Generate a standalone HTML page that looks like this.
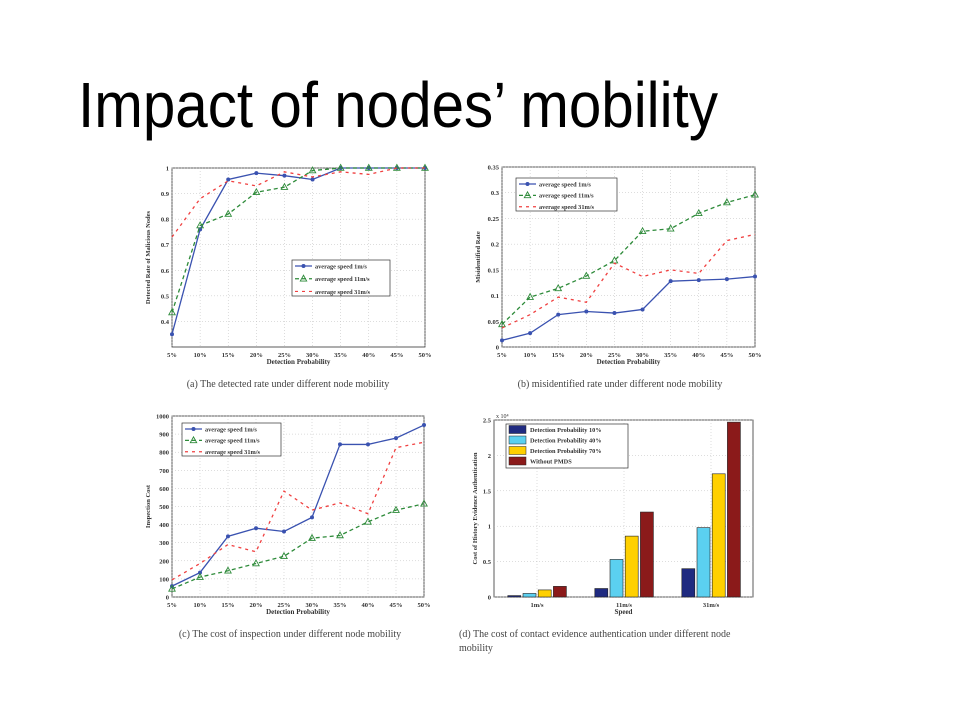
<!DOCTYPE html>
<html><head><meta charset="utf-8"><style>
html,body{margin:0;padding:0;background:#fff;}
svg text{font-family:"Liberation Serif",serif;}
</style></head><body>
<svg id="s" width="960" height="720" viewBox="0 0 960 720" xmlns="http://www.w3.org/2000/svg">
<text x="78" y="127" font-size="64" textLength="640" lengthAdjust="spacingAndGlyphs" style="font-family:'Liberation Sans',sans-serif">Impact of nodes’ mobility</text>
</svg>
<script>
const xCats=['5%','10%','15%','20%','25%','30%','35%','40%','45%','50%'];
const seriesNames=['average speed 1m/s','average speed 11m/s','average speed 31m/s'];
const aBlue=[0.35,0.76,0.955,0.98,0.97,0.955,1,1,1,1];
const aGreen=[0.435,0.775,0.82,0.905,0.925,0.99,1,1,1,1];
const aRed=[0.73,0.88,0.95,0.93,0.985,0.965,0.985,0.975,1,1];
const aTicks=[0.4,0.5,0.6,0.7,0.8,0.9,1];
const bBlue=[0.013,0.027,0.063,0.069,0.066,0.073,0.128,0.130,0.132,0.137];
const bGreen=[0.044,0.097,0.114,0.138,0.168,0.225,0.230,0.260,0.281,0.296];
const bRed=[0.037,0.063,0.097,0.087,0.163,0.137,0.150,0.143,0.207,0.219];
const bTicks=[0,0.05,0.1,0.15,0.2,0.25,0.3,0.35];
const cBlue=[60,135,335,380,362,440,843,843,878,950];
const cGreen=[45,110,145,185,225,325,340,415,480,515];
const cRed=[95,185,290,250,585,480,520,460,825,855];
const cTicks=[0,100,200,300,400,500,600,700,800,900,1000];
const dCats=['1m/s','11m/s','31m/s'];
const dNames=['Detection Probability 10%','Detection Probability 40%','Detection Probability 70%','Without PMDS'];
const d10=[0.02,0.12,0.40];
const d40=[0.05,0.53,0.98];
const d70=[0.10,0.86,1.74];
const dWithout=[0.15,1.20,2.47];
const dTicks=[0,0.5,1,1.5,2,2.5];

const NS='http://www.w3.org/2000/svg';
const svg=document.getElementById('s');
function mk(tag,attrs,parent,txt){const e=document.createElementNS(NS,tag);for(const k in attrs)e.setAttribute(k,attrs[k]);if(txt!==undefined)e.textContent=txt;(parent||svg).appendChild(e);return e;}
const cols=['#3a52b0','#2e8b3a','#f04040'];
const dashes=['','4,3','3,4'];

function lineChart(id,box,ymin,ymax,ticks,series,ylabel,legend,caption,capX,capY){
  const g=mk('g',{});
  
  
  const [L,T,R,B]=box;
  const sx=i=>L+(R-L)*i/(xCats.length-1);
  const sy=v=>B-(B-T)*(v-ymin)/(ymax-ymin);
  mk('rect',{x:L,y:T,width:R-L,height:B-T,fill:'#fff',stroke:'#333','stroke-width':0.8},g);
  ticks.forEach(t=>{const y=sy(t);
    mk('line',{x1:L,x2:R,y1:y,y2:y,stroke:'#bbb','stroke-width':0.5,'stroke-dasharray':'1,2'},g);
    const tl=mk('text',{x:L-3,y:y+2.5,'font-size':6.5,'font-weight':'bold','text-anchor':'end',fill:'#333'},g,String(t));
    
    
  });
  xCats.forEach((c,i)=>{const x=sx(i);
    mk('line',{x1:x,x2:x,y1:T,y2:B,stroke:'#bbb','stroke-width':0.5,'stroke-dasharray':'1,2'},g);
    const tl=mk('text',{x:x,y:B+10,'font-size':6.5,'font-weight':'bold','text-anchor':'middle',fill:'#333'},g,c);
    
    
  });
  const xt=mk('text',{x:(L+R)/2,y:B+17,'font-size':7,'font-weight':'bold','text-anchor':'middle',fill:'#333'},g,'Detection Probability');
  
  
  const yt=mk('text',{x:0,y:0,'font-size':6.5,'font-weight':'bold','text-anchor':'middle',fill:'#333',transform:`translate(${L-22},${(T+B)/2}) rotate(-90)`},g,ylabel);
  
  
  series.forEach((vals,si)=>{
    const pts=vals.map((v,i)=>sx(i)+','+sy(v)).join(' ');
    const pl=mk('polyline',{points:pts,fill:'none',stroke:cols[si],'stroke-width':1.3,'stroke-dasharray':dashes[si]},g);
    
    
    vals.forEach((v,i)=>{
      let m;
      if(si===0){m=mk('circle',{cx:sx(i),cy:sy(v),r:2,fill:cols[0]},g);}
      else if(si===1){const x=sx(i),y=sy(v);m=mk('polygon',{points:`${x},${y-3.5} ${x-3.2},${y+2.3} ${x+3.2},${y+2.3}`,fill:'none',stroke:cols[1],'stroke-width':0.9},g);}
      if(m){}
    });
  });
  const [lx,ly,lw,lh]=legend;
  const lg=mk('g',{},g);
  
  
  mk('rect',{x:lx,y:ly,width:lw,height:lh,fill:'#fff',stroke:'#333','stroke-width':0.7},lg);
  seriesNames.forEach((n,si)=>{const y=ly+6+si*(lh-8)/2.2;
    mk('line',{x1:lx+3,x2:lx+20,y1:y,y2:y,stroke:cols[si],'stroke-width':1.2,'stroke-dasharray':dashes[si]},lg);
    if(si===0)mk('circle',{cx:lx+11.5,cy:y,r:2,fill:cols[0]},lg);
    if(si===1)mk('polygon',{points:`${lx+11.5},${y-3.5} ${lx+8.3},${y+2.3} ${lx+14.7},${y+2.3}`,fill:'none',stroke:cols[1],'stroke-width':0.9},lg);
    const t=mk('text',{x:lx+23,y:y+2.3,'font-size':6.3,'font-weight':'bold',fill:'#333'},lg,n);
    
    
  });
  const cp=mk('text',{x:capX,y:capY,'font-size':10,'text-anchor':'middle',fill:'#444'},g,caption);
  
  
}

lineChart('chart-a-detected-rate',[172,168,425,347],0.3,1.0,aTicks,[aBlue,aGreen,aRed],'Detected Rate of Malicious Nodes',[292,260,98,36],'(a) The detected rate under different node mobility',288,387);
lineChart('chart-b-misidentified-rate',[502,167,755,347],0,0.35,bTicks,[bBlue,bGreen,bRed],'Misidentified Rate',[516,178,101,33],'(b) misidentified rate under different node mobility',620,387);
lineChart('chart-c-inspection-cost',[172,416,424,597],0,1000,cTicks,[cBlue,cGreen,cRed],'Inspection Cost',[182,423,99,33],'(c) The cost of inspection under different node mobility',290,637);

(function(){
  const g=mk('g',{});
  
  
  const L=494,T=420,R=753,B=597,ymin=0,ymax=2.5;
  const sy=v=>B-(B-T)*(v-ymin)/(ymax-ymin);
  const centers=[537,624,711];
  mk('rect',{x:L,y:T,width:R-L,height:B-T,fill:'#fff',stroke:'#333','stroke-width':0.8},g);
  dTicks.forEach(t=>{const y=sy(t);
    mk('line',{x1:L,x2:R,y1:y,y2:y,stroke:'#bbb','stroke-width':0.5,'stroke-dasharray':'1,2'},g);
    const tl=mk('text',{x:L-3,y:y+2.5,'font-size':6.5,'font-weight':'bold','text-anchor':'end',fill:'#333'},g,String(t));
    
    
  });
  mk('text',{x:L+2,y:T-2,'font-size':6,fill:'#333'},g,'x 10⁴');
  const bcols=['#1f2a80','#5bd0f0','#ffd000','#8b1a1a'];
  const sets=[d10,d40,d70,dWithout];
  dCats.forEach((c,ci)=>{
    mk('line',{x1:centers[ci],x2:centers[ci],y1:T,y2:B,stroke:'#bbb','stroke-width':0.5,'stroke-dasharray':'1,2'},g);
    sets.forEach((vals,si)=>{
      const x=centers[ci]+(si-2)*15.2+1.2;
      const r=mk('rect',{x:x,y:sy(vals[ci]),width:13,height:B-sy(vals[ci]),fill:bcols[si],stroke:'#222','stroke-width':0.6},g);
      
      
    });
    const tl=mk('text',{x:centers[ci],y:B+10,'font-size':6.5,'font-weight':'bold','text-anchor':'middle',fill:'#333'},g,c);
    
    
  });
  const xt=mk('text',{x:(L+R)/2,y:B+17,'font-size':7,'font-weight':'bold','text-anchor':'middle',fill:'#333'},g,'Speed');
  
  
  const yt=mk('text',{x:0,y:0,'font-size':6.5,'font-weight':'bold','text-anchor':'middle',fill:'#333',transform:`translate(${L-17},${(T+B)/2}) rotate(-90)`},g,'Cost of History Evidence Authentication');
  
  
  const lg=mk('g',{},g);
  
  
  mk('rect',{x:506,y:424,width:122,height:44,fill:'#fff',stroke:'#333','stroke-width':0.7},lg);
  dNames.forEach((n,si)=>{const y=429+si*10.5;
    mk('rect',{x:509,y:y-3.5,width:17,height:8,fill:bcols[si],stroke:'#222','stroke-width':0.5},lg);
    const t=mk('text',{x:530,y:y+3,'font-size':6.3,'font-weight':'bold',fill:'#333'},lg,n);
    
    
  });
  const c1=mk('text',{x:459,y:637,'font-size':10,fill:'#444'},g,'(d) The cost of contact evidence authentication under different node');
  
  
  const c2=mk('text',{x:459,y:651,'font-size':10,fill:'#444'},g,'mobility');
  
  
})();
</script>
</body></html>
